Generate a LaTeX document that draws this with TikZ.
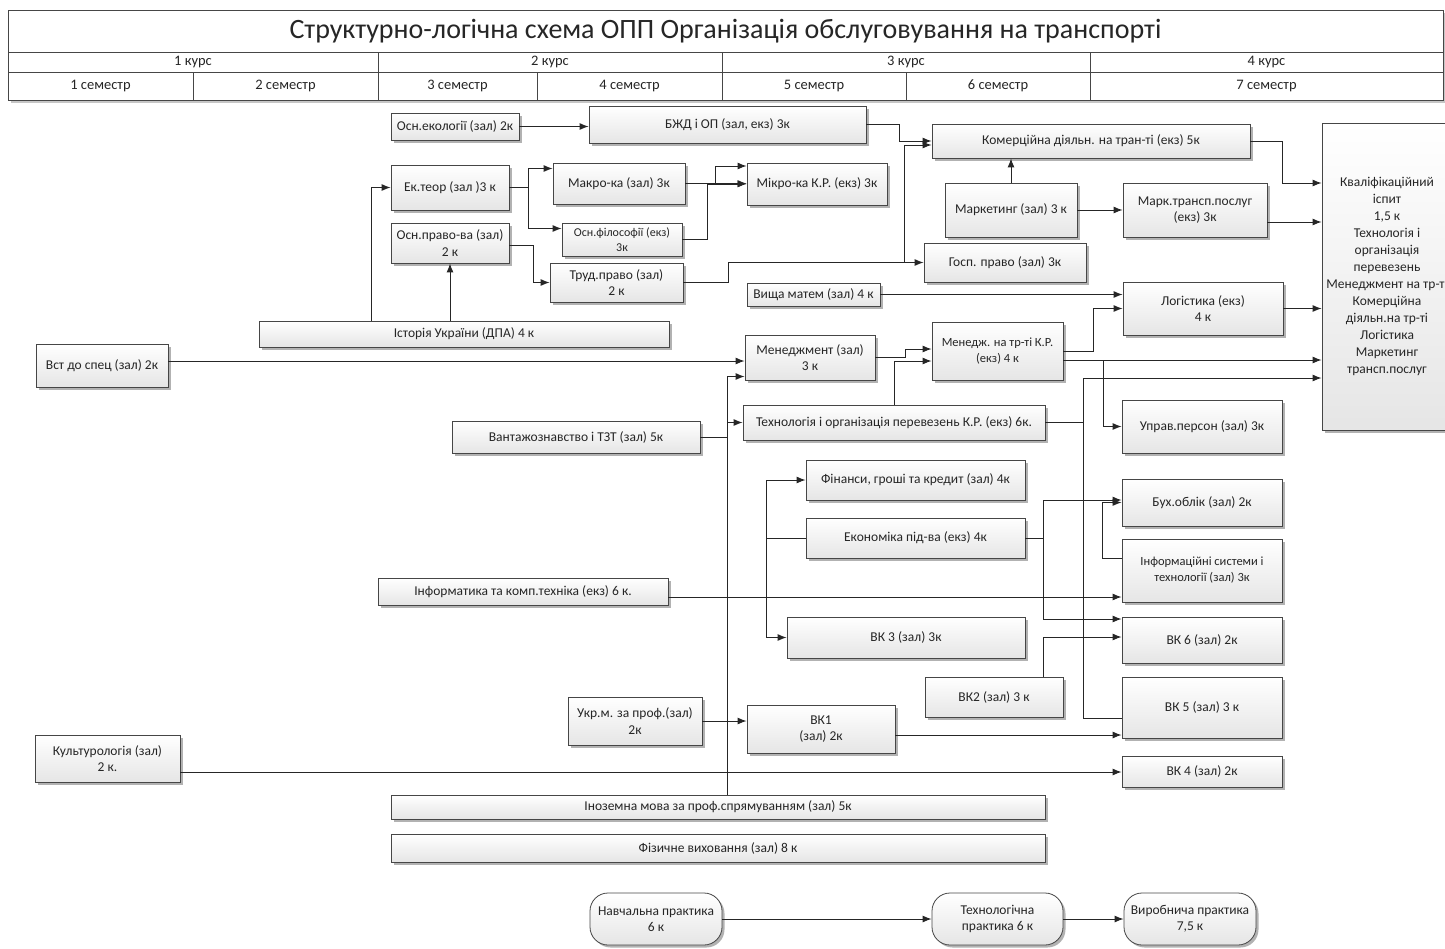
\documentclass[tikz,border=0pt]{standalone}
\usepackage{fontspec}
\setmainfont{Carlito}
\usetikzlibrary{shadows,arrows.meta}
\newcommand\mkbox[7][box]{%
  \pgfmathsetmacro\mbcx{(#3+#5)/2}%
  \pgfmathsetmacro\mbcy{(#4+#6)/2}%
  \pgfmathsetmacro\mbw{#5-#3}%
  \pgfmathsetmacro\mbh{#6-#4}%
  \node[#1, minimum width=\mbw pt, minimum height=\mbh pt] (#2) at (\mbcx,\mbcy) {#7};}
\begin{document}
\begin{tikzpicture}[x=1pt,y=-1pt,
  box/.style={draw=gray!55!black, line width=0.8pt, top color=white, bottom color=gray!20,
    drop shadow={shadow xshift=2.5pt, shadow yshift=-2.5pt, fill=gray!60, opacity=1},
    inner sep=1pt, align=center, font=\fontsize{13.5}{16.5}\selectfont, text=black!85},
  pract/.style={box, rounded corners=18pt},
  hcell/.style={draw=gray!55!black, line width=0.8pt, fill=white, inner sep=0pt,
    font=\fontsize{14.5}{16}\selectfont, text=black!85},
  arr/.style={-{Latex[length=9pt,width=7pt]}, line width=1pt, black!85},
  ln/.style={line width=1pt, black!85},
]
\useasboundingbox (0,0) rectangle (1445,948);
% ---------------- header ----------------
\fill[gray!45] (11,13) rectangle (1450,103);
\mkbox[hcell]{title}{8}{10}{1443}{52}{\fontsize{28}{32}\selectfont Структурно-логічна схема ОПП Організація обслуговування на транспорті}
\mkbox[hcell]{k1}{8}{52}{378}{72}{1 курс}
\mkbox[hcell]{k2}{378}{52}{722}{72}{2 курс}
\mkbox[hcell]{k3}{722}{52}{1090}{72}{3 курс}
\mkbox[hcell]{k4}{1090}{52}{1443}{72}{4 курс}
\mkbox[hcell]{s1}{8}{72}{193}{100}{1 семестр}
\mkbox[hcell]{s2}{193}{72}{378}{100}{2 семестр}
\mkbox[hcell]{s3}{378}{72}{537}{100}{3 семестр}
\mkbox[hcell]{s4}{537}{72}{722}{100}{4 семестр}
\mkbox[hcell]{s5}{722}{72}{906}{100}{5 семестр}
\mkbox[hcell]{s6}{906}{72}{1090}{100}{6 семестр}
\mkbox[hcell]{s7}{1090}{72}{1443}{100}{7 семестр}
% ---------------- boxes ----------------
\mkbox{ekol}{391}{113}{519}{140}{Осн.екології (зал) 2к}
\mkbox{bzhd}{589}{106}{866}{143}{БЖД і ОП  (зал, екз) 3к}
\mkbox{komerc}{932}{124}{1250}{158}{Комерційна діяльн. на тран-ті (екз) 5к}
\mkbox{ekteor}{391}{165}{509}{210}{Ек.теор (зал )3 к}
\mkbox{makro}{553}{163}{685}{204}{Макро-ка  (зал) 3к}
\mkbox{mikro}{747}{163}{887}{205}{Мікро-ка К.Р. (екз) 3к}
\mkbox{marketing}{945}{183}{1077}{237}{Маркетинг (зал) 3 к}
\mkbox{marktr}{1123}{183}{1267}{237}{Марк.трансп.послуг\\(екз) 3к}
\mkbox[box, font=\fontsize{12}{15}\selectfont]{filos}{562}{223}{682}{256}{Осн.філософії (екз)\\3к}
\mkbox{pravo}{391}{223}{509}{263}{Осн.право-ва (зал)\\2 к}
\mkbox{hosp}{924}{243}{1086}{282}{Госп. право (зал) 3к}
\mkbox{trud}{550}{263}{683}{302}{Труд.право (зал)\\2 к}
\mkbox{vyshch}{747}{283}{880}{306}{Вища матем (зал) 4 к}
\mkbox{lohist}{1123}{282}{1283}{335}{Логістика (екз)\\4 к}
\mkbox{istor}{259}{321}{669}{347}{Історія України (ДПА) 4 к}
\mkbox[box, font=\fontsize{12.5}{16}\selectfont]{menedzh}{932}{322}{1063}{380}{Менедж. на тр-ті К.Р.\\(екз) 4 к}
\mkbox{menedzhment}{745}{335}{875}{380}{Менеджмент (зал)\\3 к}
\mkbox{vstup}{36}{344}{168}{387}{Вст до спец (зал) 2к}
\mkbox{upr}{1122}{400}{1282}{453}{Управ.персон (зал) 3к}
\mkbox{tehn}{743}{405}{1045}{440}{Технологія і організація перевезень К.Р. (екз)  6к.}
\mkbox{vantazh}{452}{421}{700}{453}{Вантажознавство і ТЗТ (зал) 5к}
\mkbox{fin}{806}{460}{1025}{500}{Фінанси, гроші та кредит (зал) 4к}
\mkbox{buh}{1122}{479}{1282}{526}{Бух.облік (зал) 2к}
\mkbox{ekon}{806}{518}{1025}{558}{Економіка під-ва (екз) 4к}
\mkbox[box, font=\fontsize{12.5}{16}\selectfont]{infs}{1122}{539}{1282}{602}{Інформаційні системи і\\технології (зал) 3к}
\mkbox{infk}{378}{578}{668}{605}{Інформатика та комп.техніка  (екз) 6 к.}
\mkbox{vkthree}{787}{617}{1025}{658}{ВК 3 (зал) 3к}
\mkbox{vksix}{1122}{617}{1282}{663}{ВК 6 (зал) 2к}
\mkbox{vktwo}{925}{677}{1063}{717}{ВК2 (зал) 3 к}
\mkbox{vkfive}{1122}{677}{1282}{738}{ВК 5 (зал) 3 к}
\mkbox{ukr}{568}{697}{702}{745}{Укр.м. за проф.(зал)\\2к}
\mkbox{vkone}{747}{705}{895}{753}{ВК1\\(зал) 2к}
\mkbox{kult}{35}{735}{180}{782}{Культурологія (зал)\\2 к.}
\mkbox{vkfour}{1122}{756}{1282}{787}{ВК 4 (зал) 2к}
\mkbox{inozem}{391}{795}{1045}{819}{Іноземна мова за проф.спрямуванням (зал) 5к}
\mkbox{fiz}{391}{834}{1045}{862}{Фізичне виховання (зал) 8 к}
\mkbox[pract]{nav}{590}{893}{722}{945}{Навчальна практика\\6 к}
\mkbox[pract]{tehp}{932}{893}{1063}{945}{Технологічна\\практика 6 к}
\mkbox[pract]{vyrob}{1124}{893}{1256}{945}{Виробнича практика\\7,5 к}
\mkbox[box, font=\fontsize{13.5}{17}\selectfont]{kval}{1322}{123}{1452}{430}{Кваліфікаційний\\іспит\\1,5 к\\Технологія і\\організація\\перевезень\\Менеджмент на тр-ті\\Комерційна\\діяльн.на тр-ті\\Логістика\\Маркетинг\\трансп.послуг}
% ---------------- junctions ----------------
\coordinate (jtrud) at (904,262.5);
\coordinate (jinoz) at (727,422.5);
\coordinate (jmen) at (1103,360);
\coordinate (jmak) at (715,183.5);
% ---------------- connectors ----------------
\draw[arr] (ekol.east) -- (ekol.east -| bzhd.west);
\draw[arr] (bzhd.east) -- ++(33,0) |- (komerc.west);
\draw[arr] (trud.east) -- ++(45,0) |- (hosp.west);
\draw[arr] (jtrud) |- ([yshift=-4pt]komerc.west);
\draw[arr] ([xshift=-93pt]istor.north) |- (ekteor.west);
\draw[arr] (istor.north -| pravo.south) -- (pravo.south);
\draw[arr] (ekteor.east) -- ++(19,0) |- ([yshift=15pt]makro.west);
\draw[arr] (ekteor.east) -- ++(19,0) |- ([yshift=11pt]filos.west);
\draw[arr] (makro.east) -- (makro.east -| mikro.west);
\draw[arr] (jmak) |- ([yshift=18pt]mikro.west);
\draw[arr] (filos.east) -- ++(25,0) |- (mikro.west);
\draw[arr] ([yshift=-2pt]pravo.east) -- ++(24,0) |- (trud.west);
\draw[arr] (vyshch.east) -- (vyshch.east -| lohist.west);
\draw[arr] (marketing.north) -- (marketing.north |- komerc.south);
\draw[arr] (marketing.east) -- (marktr.west);
\draw[arr] (komerc.east) -- ++(32,0) |- ([yshift=93.5pt]kval.west);
\draw[arr] ([yshift=-12pt]marktr.east) -- ([yshift=-12pt]marktr.east -| kval.west);
\draw[arr] (lohist.east) -- (lohist.east -| kval.west);
\draw[arr] ([yshift=4.5pt]vstup.east) -- ([yshift=4.5pt]vstup.east -| menedzhment.west);
\draw[arr] ([xshift=9pt]inozem.north) |- ([yshift=-19pt]menedzhment.west);
\draw[arr] (jinoz) -- (tehn.west);
\draw[ln] (vantazh.east) -- (vantazh.east -| jinoz);
\draw[arr] (menedzhment.east) -- ++(30,0) |- ([yshift=2pt]menedzh.west);
\draw[arr] (tehn.north) |- ([yshift=-10pt]menedzh.west);
\draw[arr] (menedzh.east) -- ++(30,0) |- (lohist.west);
\draw[arr] ([yshift=-9pt]menedzh.east) -- ([yshift=-9pt]menedzh.east -| kval.west);
\draw[arr] (jmen) |- (upr.west);
\draw[arr] (tehn.east) -- ++(38,0) |- ([yshift=-101.5pt]kval.west);
\draw[ln] (tehn.east) -- ++(38,0) |- ([yshift=-10.5pt]vkfive.west);
\draw[arr] (ekon.west) -- ++(-39,0) |- (fin.west);
\draw[arr] (ekon.west) -- ++(-39,0) |- (vkthree.west);
\draw[arr] (ekon.east) -- ++(18,0) |- ([yshift=2.5pt]buh.west);
\draw[arr] (ekon.east) -- ++(18,0) |- ([yshift=21pt]vksix.west);
\draw[arr] ([xshift=49pt]vktwo.north) |- ([yshift=3pt]vksix.west);
\draw[arr] ([yshift=-5.5pt]infk.east) -- ([yshift=-5.5pt]infk.east -| infs.west);
\draw[arr] ([yshift=12.5pt]infs.west) -- ++(-19,0) |- (buh.west);
\draw[arr] (ukr.east) -- (ukr.east -| vkone.west);
\draw[arr] ([yshift=-6pt]vkone.east) -- ([yshift=-6pt]vkone.east -| vkfive.west);
\draw[arr] ([yshift=-13.5pt]kult.east) -- ([yshift=-13.5pt]kult.east -| vkfour.west);
\draw[arr] (nav.east) -- (tehp.west);
\draw[arr] (tehp.east) -- (vyrob.west);
\end{tikzpicture}
\end{document}
